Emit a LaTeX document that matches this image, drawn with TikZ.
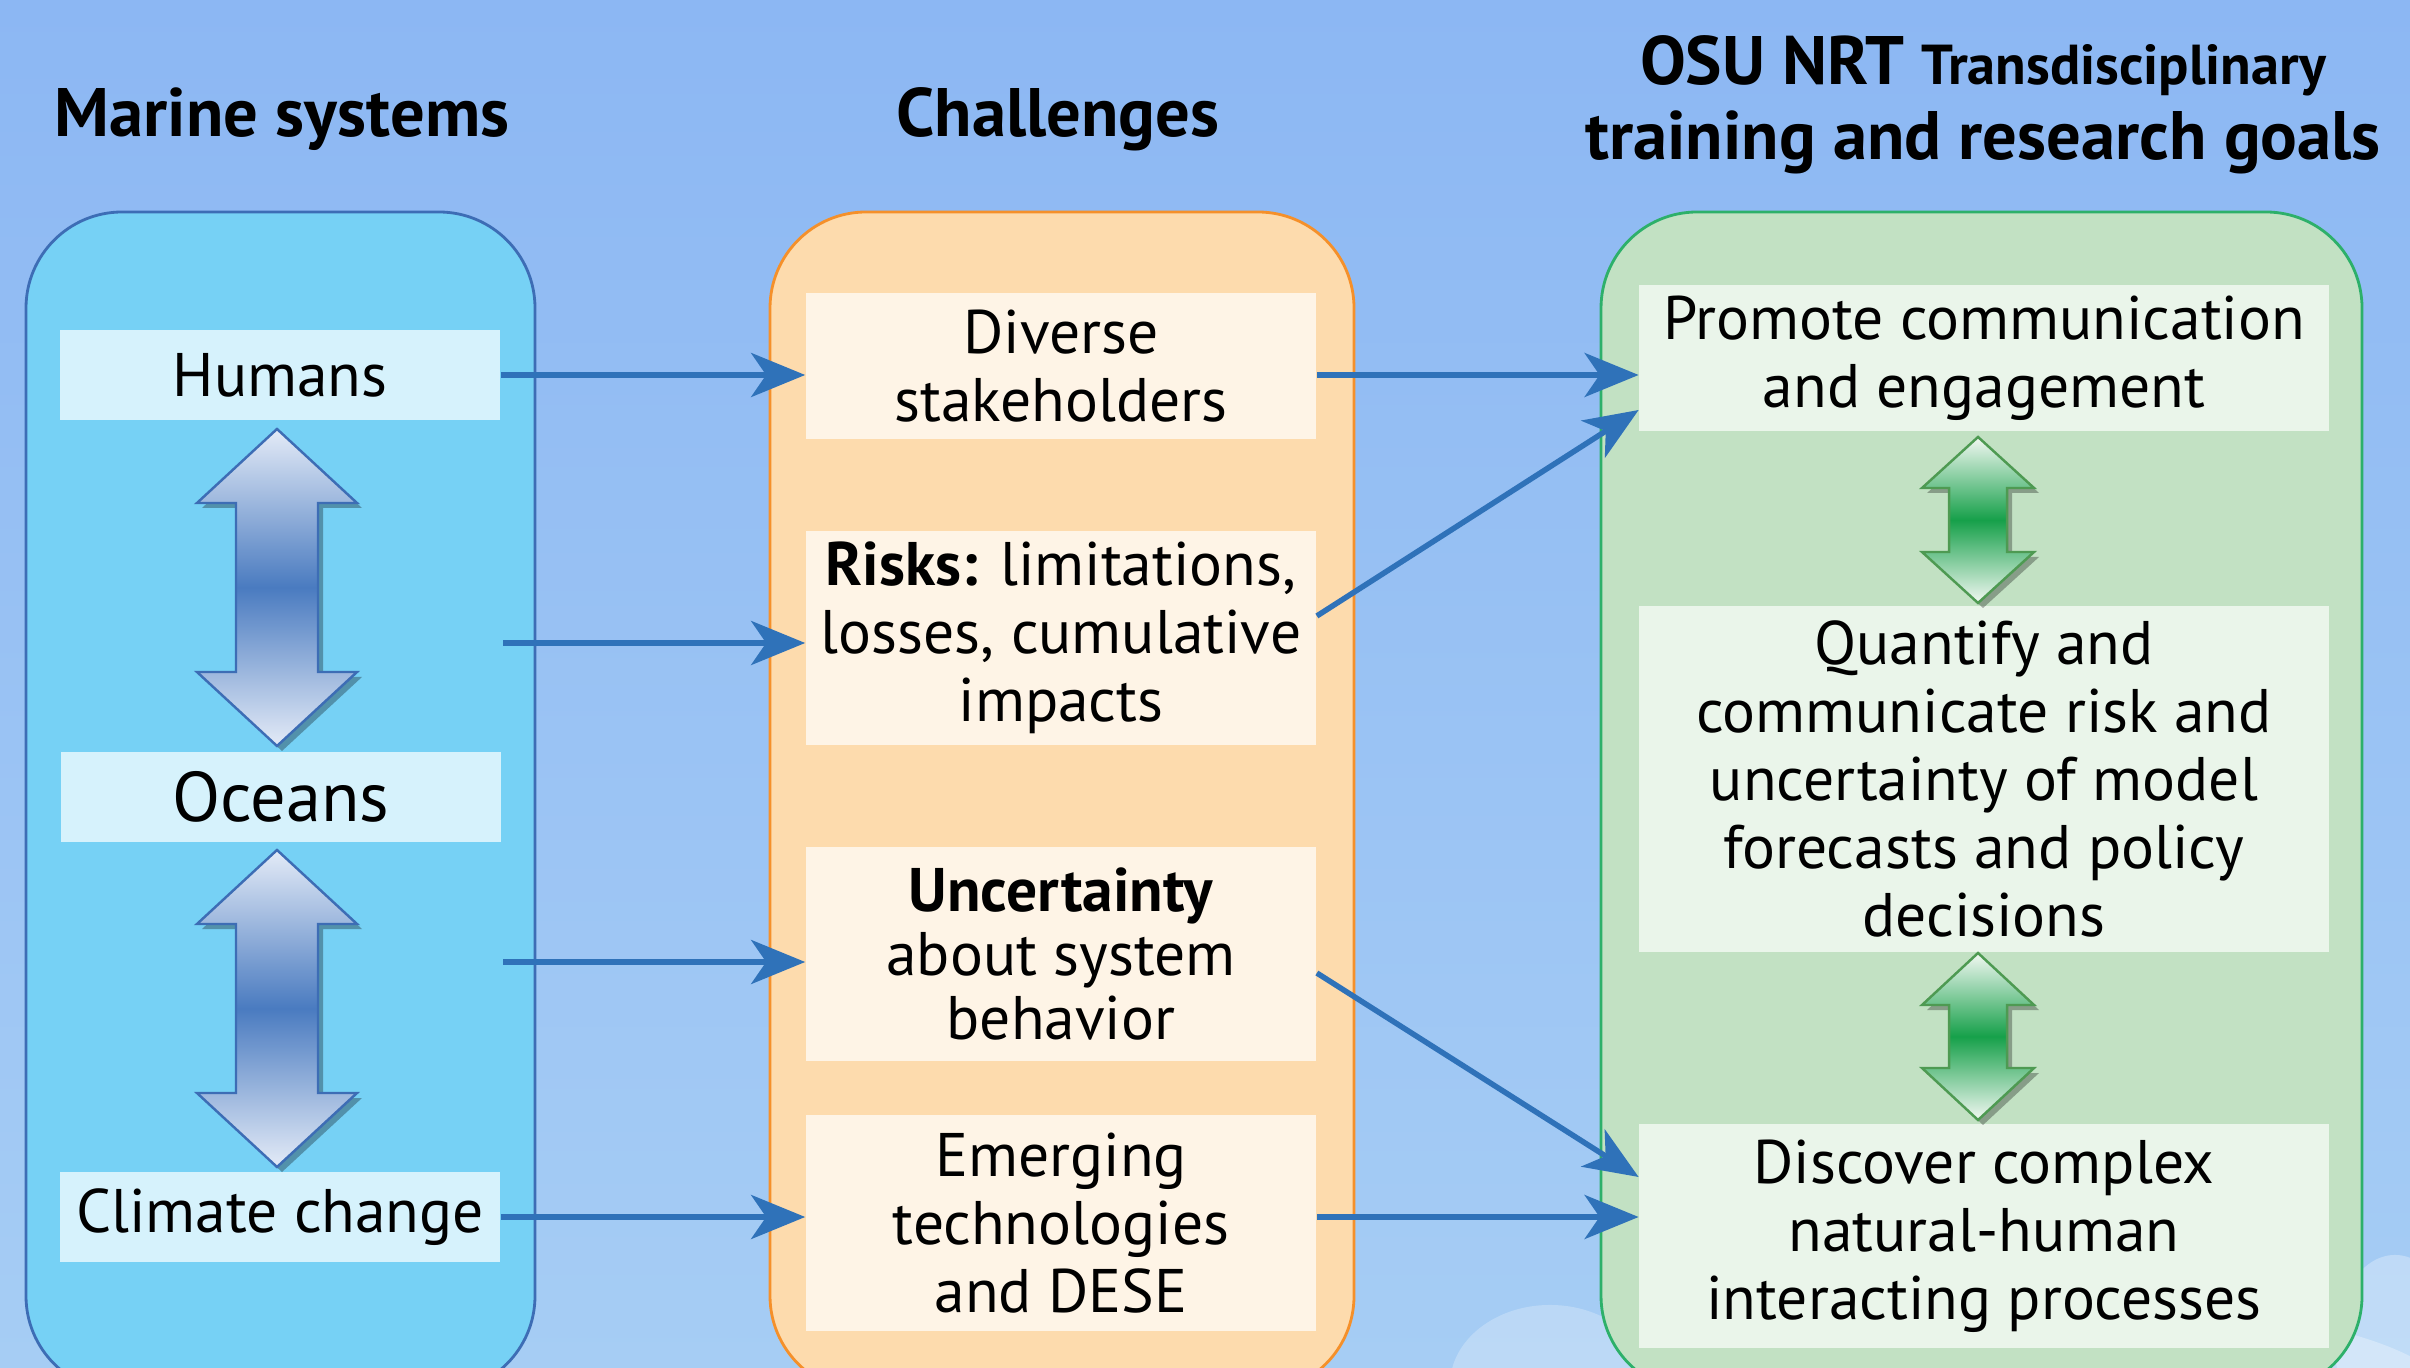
\documentclass[tikz,border=0pt]{standalone}
\usepackage{fontspec}
\setmainfont{PT Sans}
\usepackage{tikz}
\usetikzlibrary{positioning, arrows.meta, shadows}
\definecolor{skytop}{HTML}{8CB7F3}
\definecolor{skybot}{HTML}{A6CDF4}
\definecolor{marinefill}{HTML}{76D1F5}
\definecolor{marineedge}{HTML}{3D6DB5}
\definecolor{marinebox}{HTML}{D6F2FC}
\definecolor{challfill}{HTML}{FDDBAD}
\definecolor{challedge}{HTML}{F5902A}
\definecolor{challbox}{HTML}{FEF4E6}
\definecolor{goalfill}{HTML}{C2E1C3}
\definecolor{goaledge}{HTML}{2DB06A}
\definecolor{goalbox}{HTML}{EAF5EA}
\definecolor{linkblue}{HTML}{2F72B9}
\definecolor{twowaytip}{HTML}{E4EBF7}
\definecolor{twowaymid}{HTML}{4A7BC0}
\definecolor{greentip}{HTML}{F2F8F2}
\definecolor{greenmid}{HTML}{16A04A}
\definecolor{greenedge}{HTML}{4E9A52}

% two-headed vertical block arrow: style, x, top tip, bottom tip, head half width, shaft half width, head length
\newcommand{\updown}[7]{%
  \path[#1] (#2,#3) -- ({#2+#5},{#3+#7}) -- ({#2+#6},{#3+#7}) -- ({#2+#6},{#4-#7})
    -- ({#2+#5},{#4-#7}) -- (#2,#4) -- ({#2-#5},{#4-#7}) -- ({#2-#6},{#4-#7})
    -- ({#2-#6},{#3+#7}) -- ({#2-#5},{#3+#7}) -- cycle;}

\begin{document}
\begin{tikzpicture}[x=0.01cm, y=-0.01cm,
  txt/.style={font=\fontsize{17.5}{19.3}\selectfont, align=center, inner sep=0pt},
  hdr/.style={font=\fontsize{19.5}{21.6}\selectfont\bfseries, align=center, inner sep=0pt},
  mbox/.style={txt, fill=marinebox, minimum width=4.40cm, minimum height=0.89cm},
  cbox/.style={txt, fill=challbox, minimum width=5.10cm},
  gbox/.style={txt, fill=goalbox, minimum width=6.89cm},
  panel/.style={rounded corners=0.96cm, line width=0.8pt},
  arr/.style={-{Stealth[length=0.54cm, width=0.44cm, inset=0.15cm]}, line width=0.055cm, draw=linkblue},
  bluetwoway/.style={draw=marineedge, line width=0.7pt, top color=twowaytip, bottom color=twowaytip,
    middle color=twowaymid, drop shadow={shadow xshift=0.05cm, shadow yshift=-0.05cm, opacity=0.3, fill=black}},
  greentwoway/.style={draw=greenedge, line width=0.7pt, top color=greentip, bottom color=greentip,
    middle color=greenmid, drop shadow={shadow xshift=0.05cm, shadow yshift=-0.05cm, opacity=0.3, fill=black}}
]
  \useasboundingbox (0,0) rectangle (2410,1368);
  \clip (0,0) rectangle (2410,1368);

  % sky
  \shade[top color=skytop, bottom color=skybot] (0,0) rectangle (2410,1368);
  \fill[white, opacity=0.25] (1550,1385) ellipse [x radius=1.0cm, y radius=0.8cm];
  \fill[white, opacity=0.30] (2395,1345) ellipse [x radius=0.6cm, y radius=0.9cm];
  \fill[white, opacity=0.30] (2050,1400) ellipse [x radius=4cm, y radius=1cm];

  % Column panels
  \draw[panel, fill=marinefill, draw=marineedge] (26,212) rectangle (535,1392);
  \draw[panel, fill=challfill, draw=challedge]   (770,212) rectangle (1354,1392);
  \draw[panel, fill=goalfill, draw=goaledge]     (1601,212) rectangle (2362,1392);

  % Headers
  \node[hdr, anchor=base] (marinehd) at (282,137) {Marine systems};
  \node[hdr, anchor=base] (challhd)  at (1058,137) {Challenges};
  \node[hdr, anchor=base] (goalhd)   at (1983,160)
    {OSU NRT {\fontsize{16}{18}\selectfont Transdisciplinary}\\training and research goals};

  % Marine systems
  \node[mbox] (humans)  at (280,375)  {Humans};
  \node[mbox, font=\fontsize{20}{22}\selectfont] (oceans) at (281,797) {Oceans};
  \node[mbox] (climate) at (280,1217) {Climate change};

  \updown{bluetwoway}{277}{429}{746}{80}{41}{74}
  \updown{bluetwoway}{277}{850}{1167}{80}{41}{74}

  % Challenges
  \node[cbox, minimum height=1.45cm] (diverse)  at (1061,366)  {Diverse\\stakeholders};
  \node[cbox, minimum height=2.14cm] (risks)    at (1061,638)  {\textbf{Risks:} limitations,\\losses, cumulative\\impacts};
  \node[cbox, minimum height=2.13cm, font=\fontsize{17.5}{18.2}\selectfont] (uncert) at (1061,954)
    {\textbf{Uncertainty}\\about system\\behavior};
  \node[cbox, minimum height=2.16cm] (emerging) at (1061,1223) {Emerging\\technologies\\and DESE};

  % Goals
  \node[gbox, minimum height=1.45cm] (promote)  at (1984,358)  {Promote communication\\and engagement};
  \node[gbox, minimum height=3.46cm] (quantify) at (1984,779)  {Quantify and\\communicate risk and\\uncertainty of model\\forecasts and policy\\decisions};
  \node[gbox, minimum height=2.24cm] (discover) at (1984,1236) {Discover complex\\natural-human\\interacting processes};

  \updown{greentwoway}{1978}{437}{603}{56}{29}{51}
  \updown{greentwoway}{1978}{953}{1120}{56}{29}{52}

  % Arrows
  \coordinate (linkA) at (503,643);
  \coordinate (linkB) at (503,962);
  \draw[arr] (humans.east)  -- (humans.east -| diverse.west);
  \draw[arr] (linkA)        -- (linkA -| risks.west);
  \draw[arr] (linkB)        -- (linkB -| uncert.west);
  \draw[arr] (climate.east) -- (climate.east -| emerging.west);
  \draw[arr] (humans.east -| diverse.east)  -- (humans.east -| promote.west);
  \draw[arr] ([yshift=0.22cm]risks.east)    -- ([yshift=-0.52cm]promote.west);
  \draw[arr] ([yshift=-0.19cm]uncert.east)  -- ([yshift=0.59cm]discover.west);
  \draw[arr] (climate.east -| emerging.east) -- (climate.east -| discover.west);
\end{tikzpicture}
\end{document}
